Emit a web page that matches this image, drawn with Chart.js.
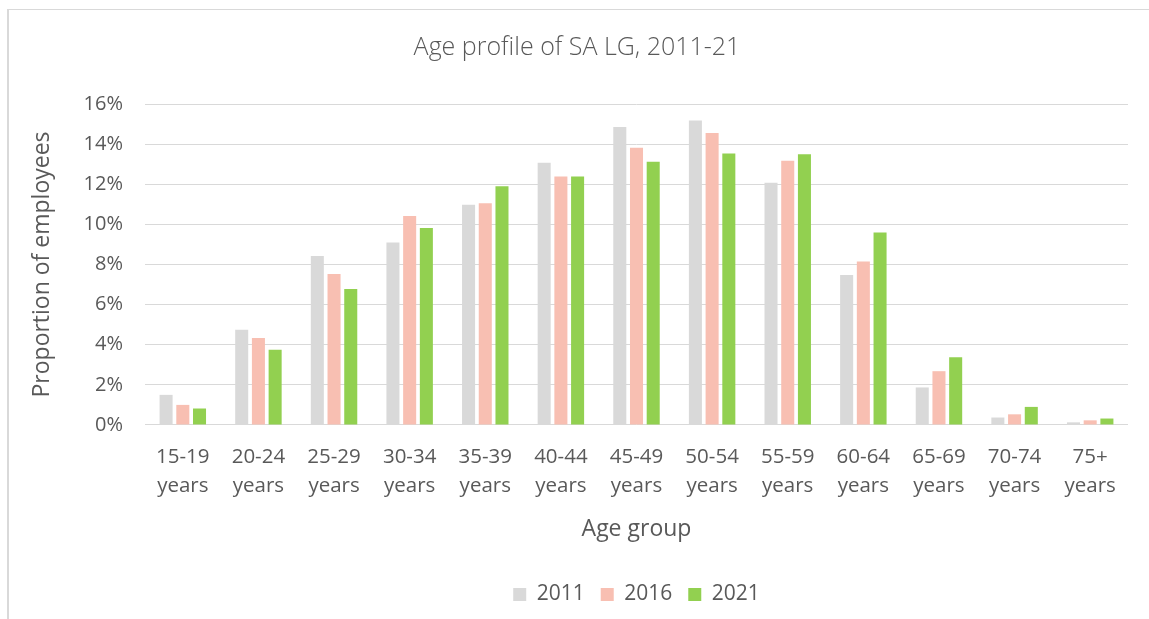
<!DOCTYPE html>
<html>
<head>
<meta charset="utf-8">
<script src="https://cdn.jsdelivr.net/npm/chart.js@4/dist/chart.umd.min.js"></script>
<style>
  html, body { margin: 0; padding: 0; background: #ffffff; }
  #wrap { position: relative; width: 1149px; height: 619px; overflow: hidden; }
  #frame { position: absolute; left: 7px; top: 9px; width: 1200px; height: 700px;
           border-top: 1px solid #D9D9D9; border-left: 2px solid #D9D9D9; }
  canvas { position: absolute; left: 0; top: 0; }
</style>
</head>
<body>
<div id="wrap">
  <div id="frame"></div>
  <canvas id="c" width="1149" height="619"></canvas>
</div>
<script>
const categories = [
  ["15-19", "years"], ["20-24", "years"], ["25-29", "years"], ["30-34", "years"],
  ["35-39", "years"], ["40-44", "years"], ["45-49", "years"], ["50-54", "years"],
  ["55-59", "years"], ["60-64", "years"], ["65-69", "years"], ["70-74", "years"],
  ["75+", "years"]
];
const seriesNames = ["2011", "2016", "2021"];
const values2011 = [1.5, 4.75, 8.42, 9.1, 10.98, 13.07, 14.85, 15.18, 12.08, 7.47, 1.87, 0.37, 0.13];
const values2016 = [1.0, 4.33, 7.52, 10.42, 11.05, 12.38, 13.82, 14.55, 13.17, 8.15, 2.68, 0.53, 0.23];
const values2021 = [0.82, 3.75, 6.78, 9.82, 11.9, 12.38, 13.12, 13.53, 13.5, 9.6, 3.38, 0.9, 0.32];
const yTicks = [0, 2, 4, 6, 8, 10, 12, 14, 16];

const colors = ["#D9D9D9", "#F8BFB2", "#92D050"];
const textColor = "#595959";
const fontFamily = "'Open Sans', 'Noto Sans', sans-serif";

const seriesValues = [values2011, values2016, values2021];
const datasets = seriesNames.map((name, i) => ({
  label: name,
  data: seriesValues[i],
  backgroundColor: colors[i],
  borderWidth: 0,
  categoryPercentage: 0.663,
  barPercentage: 0.78
}));

new Chart(document.getElementById("c"), {
  type: "bar",
  data: { labels: categories, datasets },
  options: {
    responsive: false,
    animation: false,
    devicePixelRatio: 1,
    layout: { padding: { left: 26, right: 21, top: 0, bottom: 4 } },
    plugins: {
      title: {
        display: true,
        text: "Age profile of SA LG, 2011-21",
        color: textColor,
        font: { family: fontFamily, size: 25, weight: "300", lineHeight: 1.2 },
        padding: { top: 33, bottom: 41 }
      },
      legend: {
        display: true,
        position: "bottom",
        fullSize: false,
        labels: {
          color: textColor,
          font: { family: fontFamily, size: 21 },
          boxWidth: 13,
          boxHeight: 13,
          padding: 16
        }
      },
      tooltip: { enabled: false }
    },
    scales: {
      x: {
        grid: { display: false, drawTicks: false },
        border: { display: false },
        ticks: {
          color: textColor,
          font: { family: fontFamily, size: 20.5, lineHeight: 1.45 },
          padding: 17,
          maxRotation: 0,
          autoSkip: false
        },
        title: {
          display: true,
          text: "Age group",
          color: textColor,
          font: { family: fontFamily, size: 23, lineHeight: 1.2 },
          padding: { top: -3, bottom: 25 }
        }
      },
      y: {
        min: yTicks[0],
        max: yTicks[yTicks.length - 1],
        afterBuildTicks: (scale) => { scale.ticks = yTicks.map(v => ({ value: v })); },
        afterFit: (scale) => { scale.width = 119; },
        grid: { color: "#D9D9D9", lineWidth: 1, drawTicks: false },
        border: { display: false },
        ticks: {
          color: textColor,
          font: { family: fontFamily, size: 20 },
          padding: 22,
          callback: (v) => v + "%"
        },
        title: {
          display: true,
          text: "Proportion of employees",
          color: textColor,
          font: { family: fontFamily, size: 23, lineHeight: 1.2 },
          padding: { top: 3, bottom: 0 }
        }
      }
    }
  }
});
</script>
</body>
</html>
